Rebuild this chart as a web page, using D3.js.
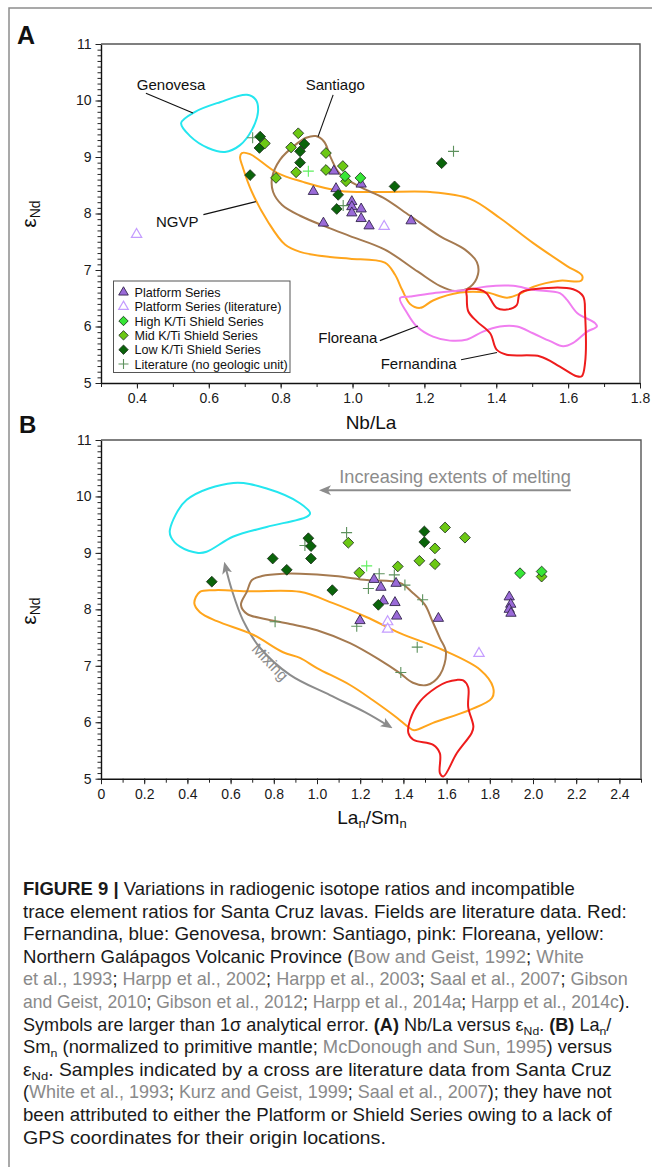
<!DOCTYPE html>
<html><head><meta charset="utf-8">
<script src="https://cdn.jsdelivr.net/npm/d3@7"></script>
<style>
body{margin:0;background:#fff;}
svg{display:block;font-family:"Liberation Sans",Arial,Helvetica,sans-serif;}
</style></head><body>
<svg id="c" width="652" height="1167"></svg>
<script>
// ---------------- DATA ----------------
// Panel A: Nb/La vs eNd
const platformA    = [[0.891,8.39],[0.919,7.83],[0.948,8.75],[0.954,8.44],[0.998,8.21],[0.998,8.12],[0.998,8.01],[1.024,8.08],[1.024,7.91],[1.046,7.78],[1.163,7.87],[1.024,8.52]];
const platformLitA = [[0.399,7.63],[1.088,7.77]];
const highKTiA     = [[0.979,8.66],[1.022,8.63]];
const midKTiA      = [[0.849,9.42],[0.829,9.17],[0.756,9.24],[0.787,8.63],[0.843,8.73],[0.926,9.07],[0.926,8.77],[0.973,8.84],[0.982,8.57]];
const lowKTiA      = [[0.743,9.36],[0.741,9.16],[0.715,8.68],[0.866,9.23],[0.854,9.10],[0.854,8.90],[0.960,8.33],[0.956,8.08],[1.117,8.48],[1.248,8.89]];
const litA         = [[0.722,9.34],[0.974,8.14],[1.281,9.10]];
const litBrightA   = [[0.877,8.75]];

const genovesaA   = [[0.523,9.60],[0.562,9.80],[0.631,9.97],[0.706,10.10],[0.731,10.01],[0.737,9.80],[0.720,9.48],[0.687,9.21],[0.645,9.09],[0.598,9.16],[0.548,9.37]];
const santiagoA   = [[0.898,9.37],[0.921,9.27],[0.940,8.98],[0.965,8.70],[1.021,8.47],[1.085,8.28],[1.160,7.96],[1.243,7.60],[1.313,7.36],[1.346,7.14],[1.349,6.92],[1.327,6.70],[1.285,6.63],[1.243,6.72],[1.182,6.97],[1.090,7.36],[0.993,7.60],[0.932,7.75],[0.854,7.96],[0.804,8.15],[0.779,8.38],[0.776,8.63],[0.798,8.95],[0.840,9.21],[0.871,9.34]];
const ngvpA       = [[0.692,9.07],[0.715,9.05],[0.790,8.72],[0.862,8.56],[0.965,8.40],[1.077,8.38],[1.216,8.38],[1.327,8.26],[1.410,7.92],[1.502,7.48],[1.597,7.07],[1.639,6.90],[1.636,6.81],[1.577,6.81],[1.502,6.70],[1.466,6.58],[1.430,6.51],[1.374,6.60],[1.299,6.60],[1.224,6.46],[1.188,6.33],[1.160,6.40],[1.138,6.65],[1.118,6.92],[1.090,7.13],[0.993,7.20],[0.937,7.23],[0.854,7.32],[0.812,7.45],[0.765,7.85],[0.720,8.38],[0.695,8.81],[0.687,9.00]];
const floreanaA   = [[1.132,6.50],[1.160,6.53],[1.224,6.59],[1.319,6.65],[1.374,6.71],[1.447,6.72],[1.502,6.65],[1.577,6.59],[1.597,6.47],[1.625,6.24],[1.675,6.06],[1.680,6.00],[1.653,5.91],[1.614,5.71],[1.586,5.65],[1.550,5.74],[1.502,5.88],[1.458,6.00],[1.410,6.00],[1.363,5.91],[1.319,5.77],[1.271,5.75],[1.224,5.82],[1.179,6.00],[1.152,6.24]];
const fernandinaA = [[1.318,6.65],[1.355,6.65],[1.373,6.59],[1.401,6.33],[1.429,6.30],[1.457,6.38],[1.466,6.59],[1.503,6.66],[1.614,6.66],[1.642,6.53],[1.647,6.24],[1.647,5.35],[1.638,5.12],[1.624,5.12],[1.577,5.29],[1.522,5.47],[1.429,5.50],[1.401,5.59],[1.383,5.88],[1.346,6.09],[1.322,6.27],[1.318,6.53]];

// Panel B: La_n/Sm_n vs eNd
const platformB    = [[1.264,8.53],[1.296,8.39],[1.366,8.46],[1.307,8.15],[1.361,8.12],[1.369,7.88],[1.562,7.84],[1.199,7.80],[1.890,8.22],[1.897,8.09],[1.890,8.00],[1.898,7.93]];
const platformLitB = [[1.327,7.78],[1.327,7.65],[1.750,7.22]];
const highKTiB     = [[1.940,8.64],[2.040,8.67]];
const midKTiB      = [[1.145,9.18],[1.593,9.45],[1.685,9.27],[1.546,9.08],[1.474,8.86],[1.546,8.80],[1.374,8.76],[1.196,8.65],[2.040,8.58]];
const lowKTiB      = [[0.513,8.49],[0.795,8.90],[0.860,8.70],[0.960,9.26],[0.972,9.12],[0.972,8.90],[1.071,8.34],[1.284,8.08],[1.497,9.38],[1.497,9.19]];
const litB         = [[0.944,9.13],[1.137,9.36],[1.288,8.63],[1.358,8.61],[1.407,8.43],[1.238,8.37],[1.489,8.17],[1.184,7.70],[0.806,7.78],[1.464,7.33],[1.388,6.88]];
const litBrightB   = [[1.230,8.77]];

const genovesaB   = [[0.319,9.41],[0.397,9.94],[0.613,10.24],[0.767,10.14],[0.921,9.88],[0.968,9.70],[0.952,9.64],[0.767,9.46],[0.613,9.29],[0.489,9.02],[0.450,9.00],[0.366,9.11],[0.324,9.28]];
const santiagoB   = [[0.675,8.31],[0.699,8.52],[0.745,8.59],[0.843,8.63],[0.921,8.63],[1.083,8.59],[1.231,8.52],[1.384,8.47],[1.444,8.29],[1.500,8.08],[1.532,7.81],[1.569,7.49],[1.597,7.24],[1.569,6.84],[1.509,6.66],[1.444,6.70],[1.384,6.87],[1.292,7.10],[1.153,7.40],[1.000,7.63],[0.875,7.74],[0.759,7.83],[0.676,7.92],[0.648,8.08]];
const ngvpB       = [[0.458,8.31],[0.432,8.11],[0.458,7.95],[0.537,7.79],[0.704,7.55],[0.843,7.24],[0.921,7.14],[1.000,6.96],[1.153,6.66],[1.259,6.39],[1.370,6.08],[1.421,5.92],[1.449,5.86],[1.537,5.99],[1.708,6.22],[1.810,6.43],[1.815,6.62],[1.755,6.93],[1.583,7.28],[1.384,7.58],[1.231,7.86],[1.074,8.11],[0.921,8.31],[0.690,8.32],[0.528,8.34]];
const fernandinaB = [[1.647,6.75],[1.677,6.74],[1.700,6.62],[1.700,6.27],[1.724,5.92],[1.716,5.81],[1.647,5.45],[1.585,5.04],[1.569,5.10],[1.569,5.45],[1.538,5.60],[1.446,5.69],[1.423,5.81],[1.431,6.04],[1.477,6.37],[1.554,6.62],[1.600,6.71]];
const mixingCurve = [[0.574,8.79],[0.606,8.34],[0.657,7.81],[0.736,7.32],[0.875,6.84],[1.060,6.48],[1.222,6.18],[1.338,5.92]];
const meltingArrow = [[2.175,10.11],[1.023,10.11]];

// Axis ticks
const yTicks = [5,6,7,8,9,10,11];
const xTicksA = [0.4,0.6,0.8,1.0,1.2,1.4,1.6,1.8];
const xTicksB = [0,0.2,0.4,0.6,0.8,1.0,1.2,1.4,1.6,1.8,2.0,2.2,2.4];
const legendLabels = ["Platform Series","Platform Series (literature)","High K/Ti Shield Series","Mid K/Ti Shield Series","Low K/Ti Shield Series","Literature (no geologic unit)"];

// ---------------- STYLE ----------------
const C = {
  triFill:"#9a6ad8", triStroke:"#33264d", openTri:"#c49cff",
  high:"#36e636", mid:"#6cc814", low:"#0a640a", dStroke:"#1c2e1c",
  cross:"#5d915d", crossBright:"#5ef05e",
  genovesa:"#24e6ef", santiago:"#a57a50", ngvp:"#ffa51c", floreana:"#f07ef0", fernandina:"#ee1c1c",
  anno:"#8c8c8c"
};
const FONT = '"Liberation Sans",Arial,Helvetica,sans-serif';
const svg = d3.select("#c");
svg.append("rect").attr("width",652).attr("height",1167).attr("fill","#fff");
svg.append("path").attr("d","M9,1167V8H652").attr("fill","none").attr("stroke","#8d8d8d").attr("stroke-width",1.5);

const defs = svg.append("defs");
defs.append("marker").attr("id","arr").attr("viewBox","0 -6 12 12").attr("refX",9).attr("refY",0)
  .attr("markerWidth",12).attr("markerHeight",12).attr("markerUnits","userSpaceOnUse")
  .attr("orient","auto-start-reverse")
  .append("path").attr("d","M0,-5L12,0L0,5L3,0Z").attr("fill",C.anno);

function drawPanel(o){
  const {x,y,id} = o;
  const [x0,x1] = x.range(), [y0,y1] = y.range();
  const g = svg.append("g");
  defs.append("clipPath").attr("id",id).append("rect").attr("x",x0).attr("y",y1).attr("width",x1-x0).attr("height",y0-y1);
  const line = d3.line().x(d=>x(d[0])).y(d=>y(d[1])).curve(d3.curveCatmullRomClosed.alpha(0.5));
  const fg = g.append("g").attr("clip-path",`url(#${id})`);
  o.fields.forEach(([pts,col])=>{
    fg.append("path").datum(pts).attr("d",line).attr("fill","none").attr("stroke",col).attr("stroke-width",2);
  });
  // axes
  const yMinor = d3.range(50,111).map(d=>d/10);
  g.append("g").attr("transform",`translate(${x0},0)`)
    .call(d3.axisLeft(y).tickValues(yMinor).tickSize(3.5).tickSizeOuter(0).tickFormat(""))
    .call(a=>a.select(".domain").remove()).selectAll("line").attr("stroke","#222");
  const ya = g.append("g").attr("transform",`translate(${x0},0)`)
    .call(d3.axisLeft(y).tickValues(yTicks).tickSize(5.5).tickSizeOuter(0).tickPadding(4).tickFormat(d3.format("d")));
  const xMinor = d3.range(Math.round(x.domain()[0]*10), Math.round(x.domain()[1]*10)+1).map(d=>d/10);
  g.append("g").attr("transform",`translate(0,${y0})`)
    .call(d3.axisBottom(x).tickValues(xMinor).tickSize(4).tickSizeOuter(0).tickFormat(""))
    .call(a=>a.select(".domain").remove()).selectAll("line").attr("stroke","#222");
  const xa = g.append("g").attr("transform",`translate(0,${y0})`)
    .call(d3.axisBottom(x).tickValues(o.xTicks).tickSize(5.5).tickSizeOuter(0).tickPadding(4.5).tickFormat(o.fmt));
  [ya,xa].forEach(a=>{
    a.attr("font-family",FONT).attr("font-size",14);
    a.select(".domain").attr("stroke","#111").attr("stroke-width",1.4);
    a.selectAll("line").attr("stroke","#222");
    a.selectAll("text").attr("fill","#1a1a1a");
  });
  g.append("path").attr("d",`M${x0},${y1}H${x1}V${y0}`).attr("fill","none").attr("stroke","#555").attr("stroke-width",1.4);

  // points
  const pg = g.append("g");
  const crosses = (data,col)=>pg.append("g").selectAll("path").data(data).join("path")
    .attr("d",d=>{const cx=x(d[0]),cy=y(d[1]);return `M${cx-5.5},${cy}H${cx+5.5}M${cx},${cy-5.5}V${cy+5.5}`;})
    .attr("stroke",col).attr("stroke-width",1.1).attr("fill","none");
  crosses(o.lit,C.cross); crosses(o.litBright,C.crossBright);
  const tri = d3.symbol(d3.symbolTriangle,46);
  pg.append("g").selectAll("path").data(o.platLit).join("path").attr("d",tri)
    .attr("transform",d=>`translate(${x(d[0])},${y(d[1])})`).attr("fill","#fff").attr("stroke",C.openTri).attr("stroke-width",1.2);
  pg.append("g").selectAll("path").data(o.plat).join("path").attr("d",tri)
    .attr("transform",d=>`translate(${x(d[0])},${y(d[1])})`).attr("fill",C.triFill).attr("stroke",C.triStroke).attr("stroke-width",0.9);
  const dia = d3.symbol(d3.symbolSquare,58);
  [[o.low,C.low],[o.mid,C.mid],[o.high,C.high]].forEach(([data,col])=>{
    pg.append("g").selectAll("path").data(data).join("path").attr("d",dia)
      .attr("transform",d=>`translate(${x(d[0])},${y(d[1])}) rotate(45)`).attr("fill",col).attr("stroke",C.dStroke).attr("stroke-width",0.8);
  });
  return g;
}

function yTitle(cx,cy){
  const t = svg.append("text").attr("transform",`translate(${cx},${cy}) rotate(-90)`).attr("text-anchor","middle")
    .attr("font-family",FONT).attr("fill","#111");
  t.append("tspan").attr("font-size",21).text("ε");
  t.append("tspan").attr("font-size",14).attr("dy",4).text("Nd");
}

// ---------------- PANEL A ----------------
const xA = d3.scaleLinear().domain([0.3,1.8]).range([101,640]);
const yA = d3.scaleLinear().domain([5,11]).range([383,44]);
const gA = drawPanel({id:"clipA",x:xA,y:yA,xTicks:xTicksA,fmt:d3.format(".1f"),
  fields:[[genovesaA,C.genovesa],[ngvpA,C.ngvp],[santiagoA,C.santiago],[floreanaA,C.floreana],[fernandinaA,C.fernandina]],
  plat:platformA,platLit:platformLitA,high:highKTiA,mid:midKTiA,low:lowKTiA,lit:litA,litBright:litBrightA});

const labelsA = [
  {t:"Genovesa",p:[0.495,10.19],l:[[0.425,10.13],[0.556,9.78]]},
  {t:"Santiago",p:[0.952,10.19],l:[[0.946,10.10],[0.904,9.36]]},
  {t:"NGVP",p:[0.512,7.76],l:[[0.585,7.98],[0.731,8.21]]},
  {t:"Floreana",p:[0.987,5.71],l:[[1.076,5.75],[1.182,6.01]]},
  {t:"Fernandina",p:[1.184,5.25],l:[[1.302,5.41],[1.402,5.54]]}
];
labelsA.forEach(L=>{
  gA.append("line").attr("x1",xA(L.l[0][0])).attr("y1",yA(L.l[0][1])).attr("x2",xA(L.l[1][0])).attr("y2",yA(L.l[1][1]))
    .attr("stroke","#111").attr("stroke-width",1.1);
  gA.append("text").attr("x",xA(L.p[0])).attr("y",yA(L.p[1])).attr("text-anchor","middle")
    .attr("font-family",FONT).attr("font-size",15).attr("fill","#111").text(L.t);
});
// legend
const lg = gA.append("g").attr("transform","translate(113.5,281)");
lg.append("rect").attr("width",176.5).attr("height",91.5).attr("fill","#fff").attr("stroke","#555").attr("stroke-width",1);
const legSym = [
  s=>s.append("path").attr("d",d3.symbol(d3.symbolTriangle,40)).attr("fill",C.triFill).attr("stroke",C.triStroke).attr("stroke-width",0.9),
  s=>s.append("path").attr("d",d3.symbol(d3.symbolTriangle,40)).attr("fill","#fff").attr("stroke",C.openTri).attr("stroke-width",1.2),
  s=>s.append("path").attr("d",d3.symbol(d3.symbolSquare,44)).attr("transform","rotate(45)").attr("fill",C.high).attr("stroke",C.dStroke).attr("stroke-width",0.8),
  s=>s.append("path").attr("d",d3.symbol(d3.symbolSquare,44)).attr("transform","rotate(45)").attr("fill",C.mid).attr("stroke",C.dStroke).attr("stroke-width",0.8),
  s=>s.append("path").attr("d",d3.symbol(d3.symbolSquare,44)).attr("transform","rotate(45)").attr("fill",C.low).attr("stroke",C.dStroke).attr("stroke-width",0.8),
  s=>s.append("path").attr("d","M-5,0H5M0,-5V5").attr("stroke",C.cross).attr("stroke-width",1.1)
];
legendLabels.forEach((lab,i)=>{
  const r = lg.append("g").attr("transform",`translate(0,${11.3+i*14.35})`);
  legSym[i](r.append("g").attr("transform","translate(10,0)"));
  r.append("text").attr("x",21).attr("y",4.5).attr("font-family",FONT).attr("font-size",12.6).attr("fill","#111").text(lab);
});
svg.append("text").attr("x",371).attr("y",429).attr("text-anchor","middle").attr("font-family",FONT).attr("font-size",19).attr("fill","#111").text("Nb/La");
yTitle(36,214);
svg.append("text").attr("x",17).attr("y",44).attr("font-family",FONT).attr("font-size",25).attr("font-weight","bold").attr("fill","#111").text("A");

// ---------------- PANEL B ----------------
const xB = d3.scaleLinear().domain([0,2.5]).range([101,641]);
const yB = d3.scaleLinear().domain([5,11]).range([778.7,440]);
const gB = drawPanel({id:"clipB",x:xB,y:yB,xTicks:xTicksB,fmt:d=>d===0?"0":d3.format(".1f")(d),
  fields:[[genovesaB,C.genovesa],[ngvpB,C.ngvp],[santiagoB,C.santiago],[fernandinaB,C.fernandina]],
  plat:platformB,platLit:platformLitB,high:highKTiB,mid:midKTiB,low:lowKTiB,lit:litB,litBright:litBrightB});
// annotations
const aLine = d3.line().x(d=>xB(d[0])).y(d=>yB(d[1]));
gB.insert("path",":first-child").datum(meltingArrow).attr("d",aLine).attr("stroke",C.anno).attr("stroke-width",2).attr("fill","none").attr("marker-end","url(#arr)");
gB.insert("path",":first-child").datum(mixingCurve).attr("d",aLine.curve(d3.curveCatmullRom)).attr("stroke",C.anno).attr("stroke-width",2).attr("fill","none")
  .attr("marker-start","url(#arr)").attr("marker-end","url(#arr)");
gB.append("text").attr("x",xB(2.175)).attr("y",yB(10.24)).attr("text-anchor","end").attr("font-family",FONT).attr("font-size",18.2).attr("fill",C.anno).text("Increasing extents of melting");
gB.append("text").attr("transform",`translate(${xB(0.765)},${yB(7.0)}) rotate(46)`).attr("text-anchor","middle").attr("font-family",FONT).attr("font-size",15.5).attr("fill",C.anno).text("Mixing");
{
  const t = svg.append("text").attr("x",372).attr("y",824).attr("text-anchor","middle").attr("font-family",FONT).attr("font-size",19).attr("fill","#111");
  t.append("tspan").text("La"); t.append("tspan").attr("font-size",13).attr("dy",4).text("n");
  t.append("tspan").attr("dy",-4).text("/Sm"); t.append("tspan").attr("font-size",13).attr("dy",4).text("n");
}
yTitle(36,611);
svg.append("text").attr("x",19).attr("y",433).attr("font-family",FONT).attr("font-size",24).attr("font-weight","bold").attr("fill","#111").text("B");

// ---------------- CAPTION ----------------
const caption = [
  [["FIGURE 9 | ","b"],["Variations in radiogenic isotope ratios and incompatible",""]],
  [["trace element ratios for Santa Cruz lavas. Fields are literature data. Red:",""]],
  [["Fernandina, blue: Genovesa, brown: Santiago, pink: Floreana, yellow:",""]],
  [["Northern Galápagos Volcanic Province (",""],["Bow and Geist, 1992","g"],["; ",""],["White","g"]],
  [["et al., 1993","g"],["; ",""],["Harpp et al., 2002","g"],["; ",""],["Harpp et al., 2003","g"],["; ",""],["Saal et al., 2007","g"],["; ",""],["Gibson","g"]],
  [["and Geist, 2010","g"],["; ",""],["Gibson et al., 2012","g"],["; ",""],["Harpp et al., 2014a","g"],["; ",""],["Harpp et al., 2014c","g"],[").",""]],
  [["Symbols are larger than 1σ analytical error. ",""],["(A)","b"],[" Nb/La versus ε",""],["Nd","sub"],[". ",""],["(B)","b"],[" La",""],["n","sub"],["/",""]],
  [["Sm",""],["n","sub"],[" (normalized to primitive mantle; ",""],["McDonough and Sun, 1995","g"],[") versus",""]],
  [["ε",""],["Nd","sub"],[". Samples indicated by a cross are literature data from Santa Cruz",""]],
  [["(",""],["White et al., 1993","g"],["; ",""],["Kurz and Geist, 1999","g"],["; ",""],["Saal et al., 2007","g"],["); they have not",""]],
  [["been attributed to either the Platform or Shield Series owing to a lack of",""]],
  [["GPS coordinates for their origin locations.",""]]
];
// right edge of each caption line in the reference (layout only)
const captionRight = [575,627,604,584,628,630,612,612,612,612,612,386];
const cg = svg.append("g").attr("font-family",FONT).attr("font-size",17.5).attr("fill","#1a1a1a");
caption.forEach((segs,i)=>{
  const t = cg.append("text").attr("x",0).attr("y",0);
  let sub=false;
  segs.forEach(([s,k])=>{
    const ts = t.append("tspan").text(s);
    if(k==="b") ts.attr("font-weight","bold");
    if(k==="g") ts.attr("fill","#8a8a8a");
    if(k==="sub"){ ts.attr("font-size",11.8).attr("dy",4); sub=true; }
    else if(sub){ ts.attr("dy",-4); sub=false; }
  });
  const len = t.node().getComputedTextLength();
  const sx = (captionRight[i]-23)/len;
  t.attr("transform",`translate(23,${895+i*22.6}) scale(${sx},1)`);
});
</script>
</body></html>
